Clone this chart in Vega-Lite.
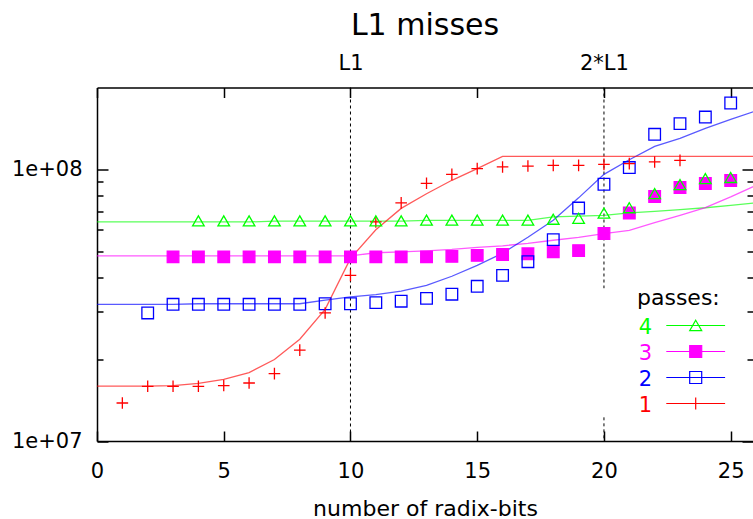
{
  "$schema": "https://vega.github.io/schema/vega-lite/v6.json",
  "width": 656,
  "height": 353.5,
  "autosize": {"type": "none"},
  "padding": {"left": 97, "top": 87.5, "right": 0, "bottom": 78},
  "title": {"text": "L1 misses", "font": "DejaVu Sans", "fontSize": 30, "fontWeight": "normal", "color": "black", "anchor": "middle", "offset": 12},
  "config": {"view": {"stroke": null}, "font": "DejaVu Sans"},
  "datasets": {
    "guides": [
      {"x": 10, "top": 2e8, "bottom": 1e7},
      {"x": 20, "top": 2e8, "bottom": 3.65e7},
      {"x": 20, "top": 1.222e7, "bottom": 1e7}
    ],
    "model": [
      {"passes": "4", "bits": 0, "misses": 6.4e7}, {"passes": "4", "bits": 1, "misses": 6.4e7}, {"passes": "4", "bits": 2, "misses": 6.4e7}, {"passes": "4", "bits": 3, "misses": 6.4e7}, {"passes": "4", "bits": 4, "misses": 6.4e7}, {"passes": "4", "bits": 5, "misses": 6.4e7}, {"passes": "4", "bits": 6, "misses": 6.4e7}, {"passes": "4", "bits": 7, "misses": 6.45e7}, {"passes": "4", "bits": 8, "misses": 6.45e7}, {"passes": "4", "bits": 9, "misses": 6.45e7}, {"passes": "4", "bits": 10, "misses": 6.45e7}, {"passes": "4", "bits": 11, "misses": 6.45e7}, {"passes": "4", "bits": 12, "misses": 6.45e7}, {"passes": "4", "bits": 13, "misses": 6.49e7}, {"passes": "4", "bits": 14, "misses": 6.49e7}, {"passes": "4", "bits": 15, "misses": 6.49e7}, {"passes": "4", "bits": 16, "misses": 6.49e7}, {"passes": "4", "bits": 17, "misses": 6.49e7}, {"passes": "4", "bits": 18, "misses": 6.68e7}, {"passes": "4", "bits": 19, "misses": 6.72e7}, {"passes": "4", "bits": 20, "misses": 6.77e7}, {"passes": "4", "bits": 21, "misses": 6.91e7}, {"passes": "4", "bits": 22, "misses": 7.0e7}, {"passes": "4", "bits": 23, "misses": 7.11e7}, {"passes": "4", "bits": 24, "misses": 7.22e7}, {"passes": "4", "bits": 25, "misses": 7.37e7}, {"passes": "4", "bits": 26, "misses": 7.53e7},
      {"passes": "3", "bits": 0, "misses": 4.8e7}, {"passes": "3", "bits": 1, "misses": 4.8e7}, {"passes": "3", "bits": 2, "misses": 4.8e7}, {"passes": "3", "bits": 3, "misses": 4.8e7}, {"passes": "3", "bits": 4, "misses": 4.8e7}, {"passes": "3", "bits": 5, "misses": 4.8e7}, {"passes": "3", "bits": 6, "misses": 4.8e7}, {"passes": "3", "bits": 7, "misses": 4.8e7}, {"passes": "3", "bits": 8, "misses": 4.8e7}, {"passes": "3", "bits": 9, "misses": 4.8e7}, {"passes": "3", "bits": 10, "misses": 4.8e7}, {"passes": "3", "bits": 11, "misses": 4.93e7}, {"passes": "3", "bits": 12, "misses": 4.97e7}, {"passes": "3", "bits": 13, "misses": 5.01e7}, {"passes": "3", "bits": 14, "misses": 5.07e7}, {"passes": "3", "bits": 15, "misses": 5.16e7}, {"passes": "3", "bits": 16, "misses": 5.23e7}, {"passes": "3", "bits": 17, "misses": 5.34e7}, {"passes": "3", "bits": 18, "misses": 5.48e7}, {"passes": "3", "bits": 19, "misses": 5.62e7}, {"passes": "3", "bits": 20, "misses": 5.8e7}, {"passes": "3", "bits": 21, "misses": 5.96e7}, {"passes": "3", "bits": 22, "misses": 6.36e7}, {"passes": "3", "bits": 23, "misses": 6.77e7}, {"passes": "3", "bits": 24, "misses": 7.23e7}, {"passes": "3", "bits": 25, "misses": 7.91e7}, {"passes": "3", "bits": 26, "misses": 8.73e7},
      {"passes": "2", "bits": 0, "misses": 3.185e7}, {"passes": "2", "bits": 1, "misses": 3.185e7}, {"passes": "2", "bits": 2, "misses": 3.185e7}, {"passes": "2", "bits": 3, "misses": 3.185e7}, {"passes": "2", "bits": 4, "misses": 3.2e7}, {"passes": "2", "bits": 5, "misses": 3.2e7}, {"passes": "2", "bits": 6, "misses": 3.2e7}, {"passes": "2", "bits": 7, "misses": 3.2e7}, {"passes": "2", "bits": 8, "misses": 3.2e7}, {"passes": "2", "bits": 9, "misses": 3.3e7}, {"passes": "2", "bits": 10, "misses": 3.39e7}, {"passes": "2", "bits": 11, "misses": 3.46e7}, {"passes": "2", "bits": 12, "misses": 3.56e7}, {"passes": "2", "bits": 13, "misses": 3.74e7}, {"passes": "2", "bits": 14, "misses": 4.04e7}, {"passes": "2", "bits": 15, "misses": 4.43e7}, {"passes": "2", "bits": 16, "misses": 4.91e7}, {"passes": "2", "bits": 17, "misses": 5.62e7}, {"passes": "2", "bits": 18, "misses": 6.49e7}, {"passes": "2", "bits": 19, "misses": 7.85e7}, {"passes": "2", "bits": 20, "misses": 9.58e7}, {"passes": "2", "bits": 21, "misses": 1.084e8}, {"passes": "2", "bits": 22, "misses": 1.215e8}, {"passes": "2", "bits": 23, "misses": 1.3e8}, {"passes": "2", "bits": 24, "misses": 1.415e8}, {"passes": "2", "bits": 25, "misses": 1.528e8}, {"passes": "2", "bits": 26, "misses": 1.64e8},
      {"passes": "1", "bits": 0, "misses": 1.593e7}, {"passes": "1", "bits": 1, "misses": 1.593e7}, {"passes": "1", "bits": 2, "misses": 1.593e7}, {"passes": "1", "bits": 3, "misses": 1.6e7}, {"passes": "1", "bits": 4, "misses": 1.63e7}, {"passes": "1", "bits": 5, "misses": 1.686e7}, {"passes": "1", "bits": 6, "misses": 1.786e7}, {"passes": "1", "bits": 7, "misses": 1.994e7}, {"passes": "1", "bits": 8, "misses": 2.37e7}, {"passes": "1", "bits": 9, "misses": 3.05e7}, {"passes": "1", "bits": 10, "misses": 4.7e7}, {"passes": "1", "bits": 11, "misses": 5.99e7}, {"passes": "1", "bits": 12, "misses": 7.18e7}, {"passes": "1", "bits": 13, "misses": 8.13e7}, {"passes": "1", "bits": 14, "misses": 9.11e7}, {"passes": "1", "bits": 15, "misses": 1.006e8}, {"passes": "1", "bits": 16, "misses": 1.116e8}, {"passes": "1", "bits": 17, "misses": 1.116e8}, {"passes": "1", "bits": 18, "misses": 1.116e8}, {"passes": "1", "bits": 19, "misses": 1.116e8}, {"passes": "1", "bits": 20, "misses": 1.116e8}, {"passes": "1", "bits": 21, "misses": 1.116e8}, {"passes": "1", "bits": 22, "misses": 1.116e8}, {"passes": "1", "bits": 23, "misses": 1.116e8}, {"passes": "1", "bits": 24, "misses": 1.116e8}, {"passes": "1", "bits": 25, "misses": 1.116e8}, {"passes": "1", "bits": 26, "misses": 1.116e8}
    ],
    "measured": [
      {"passes": "3", "bits": 3, "misses": 4.76e7}, {"passes": "3", "bits": 4, "misses": 4.76e7}, {"passes": "3", "bits": 5, "misses": 4.76e7}, {"passes": "3", "bits": 6, "misses": 4.76e7}, {"passes": "3", "bits": 7, "misses": 4.76e7}, {"passes": "3", "bits": 8, "misses": 4.76e7}, {"passes": "3", "bits": 9, "misses": 4.76e7}, {"passes": "3", "bits": 10, "misses": 4.76e7}, {"passes": "3", "bits": 11, "misses": 4.76e7}, {"passes": "3", "bits": 12, "misses": 4.76e7}, {"passes": "3", "bits": 13, "misses": 4.76e7}, {"passes": "3", "bits": 14, "misses": 4.78e7}, {"passes": "3", "bits": 15, "misses": 4.82e7}, {"passes": "3", "bits": 16, "misses": 4.86e7}, {"passes": "3", "bits": 17, "misses": 4.89e7}, {"passes": "3", "bits": 18, "misses": 4.97e7}, {"passes": "3", "bits": 19, "misses": 5.02e7}, {"passes": "3", "bits": 20, "misses": 5.8e7}, {"passes": "3", "bits": 21, "misses": 6.9e7}, {"passes": "3", "bits": 22, "misses": 7.94e7}, {"passes": "3", "bits": 23, "misses": 8.57e7}, {"passes": "3", "bits": 24, "misses": 8.87e7}, {"passes": "3", "bits": 25, "misses": 9.09e7},
      {"passes": "2", "bits": 2, "misses": 2.96e7}, {"passes": "2", "bits": 3, "misses": 3.185e7}, {"passes": "2", "bits": 4, "misses": 3.185e7}, {"passes": "2", "bits": 5, "misses": 3.185e7}, {"passes": "2", "bits": 6, "misses": 3.185e7}, {"passes": "2", "bits": 7, "misses": 3.185e7}, {"passes": "2", "bits": 8, "misses": 3.185e7}, {"passes": "2", "bits": 9, "misses": 3.2e7}, {"passes": "2", "bits": 10, "misses": 3.2e7}, {"passes": "2", "bits": 11, "misses": 3.23e7}, {"passes": "2", "bits": 12, "misses": 3.27e7}, {"passes": "2", "bits": 13, "misses": 3.35e7}, {"passes": "2", "bits": 14, "misses": 3.47e7}, {"passes": "2", "bits": 15, "misses": 3.71e7}, {"passes": "2", "bits": 16, "misses": 4.07e7}, {"passes": "2", "bits": 17, "misses": 4.57e7}, {"passes": "2", "bits": 18, "misses": 5.51e7}, {"passes": "2", "bits": 19, "misses": 7.2e7}, {"passes": "2", "bits": 20, "misses": 8.81e7}, {"passes": "2", "bits": 21, "misses": 1.015e8}, {"passes": "2", "bits": 22, "misses": 1.345e8}, {"passes": "2", "bits": 23, "misses": 1.473e8}, {"passes": "2", "bits": 24, "misses": 1.557e8}, {"passes": "2", "bits": 25, "misses": 1.754e8},
      {"passes": "1", "bits": 1, "misses": 1.38e7}, {"passes": "1", "bits": 2, "misses": 1.59e7}, {"passes": "1", "bits": 3, "misses": 1.59e7}, {"passes": "1", "bits": 4, "misses": 1.59e7}, {"passes": "1", "bits": 5, "misses": 1.6e7}, {"passes": "1", "bits": 6, "misses": 1.635e7}, {"passes": "1", "bits": 7, "misses": 1.77e7}, {"passes": "1", "bits": 8, "misses": 2.16e7}, {"passes": "1", "bits": 9, "misses": 2.96e7}, {"passes": "1", "bits": 10, "misses": 4.07e7}, {"passes": "1", "bits": 11, "misses": 6.4e7}, {"passes": "1", "bits": 12, "misses": 7.52e7}, {"passes": "1", "bits": 13, "misses": 8.88e7}, {"passes": "1", "bits": 14, "misses": 9.58e7}, {"passes": "1", "bits": 15, "misses": 1.006e8}, {"passes": "1", "bits": 16, "misses": 1.02e8}, {"passes": "1", "bits": 17, "misses": 1.028e8}, {"passes": "1", "bits": 18, "misses": 1.034e8}, {"passes": "1", "bits": 19, "misses": 1.034e8}, {"passes": "1", "bits": 20, "misses": 1.043e8}, {"passes": "1", "bits": 21, "misses": 1.049e8}, {"passes": "1", "bits": 22, "misses": 1.064e8}, {"passes": "1", "bits": 23, "misses": 1.079e8},
      {"passes": "4", "bits": 4, "misses": 6.46e7}, {"passes": "4", "bits": 5, "misses": 6.46e7}, {"passes": "4", "bits": 6, "misses": 6.46e7}, {"passes": "4", "bits": 7, "misses": 6.46e7}, {"passes": "4", "bits": 8, "misses": 6.46e7}, {"passes": "4", "bits": 9, "misses": 6.46e7}, {"passes": "4", "bits": 10, "misses": 6.46e7}, {"passes": "4", "bits": 11, "misses": 6.46e7}, {"passes": "4", "bits": 12, "misses": 6.46e7}, {"passes": "4", "bits": 13, "misses": 6.5e7}, {"passes": "4", "bits": 14, "misses": 6.5e7}, {"passes": "4", "bits": 15, "misses": 6.5e7}, {"passes": "4", "bits": 16, "misses": 6.5e7}, {"passes": "4", "bits": 17, "misses": 6.5e7}, {"passes": "4", "bits": 18, "misses": 6.55e7}, {"passes": "4", "bits": 19, "misses": 6.6e7}, {"passes": "4", "bits": 20, "misses": 6.9e7}, {"passes": "4", "bits": 21, "misses": 7.22e7}, {"passes": "4", "bits": 22, "misses": 8.14e7}, {"passes": "4", "bits": 23, "misses": 8.79e7}, {"passes": "4", "bits": 24, "misses": 9.24e7}, {"passes": "4", "bits": 25, "misses": 9.33e7}
    ]
  },
  "layer": [
    {
      "data": {"name": "guides"},
      "mark": {"type": "rule", "color": "black", "strokeWidth": 1, "strokeDash": [3, 3]},
      "encoding": {
        "x": {"field": "x", "type": "quantitative", "scale": {"domain": [0, 25.88], "nice": false, "zero": false},
          "axis": {"orient": "top", "values": [0, 5, 10, 15, 20, 25], "labelExpr": "datum.value == 10 ? 'L1' : datum.value == 20 ? '2*L1' : ''", "tickSize": -10, "labelPadding": 24, "labelFont": "DejaVu Sans", "labelFontSize": 21, "labelColor": "black", "domainColor": "black", "tickColor": "black", "domainWidth": 1.5, "tickWidth": 1.5, "grid": false, "title": null, "labelFlush": false, "labelOverlap": false}},
        "y": {"field": "top", "type": "quantitative", "scale": {"type": "log", "domain": [1e7, 2e8], "nice": false},
          "axis": {"orient": "right", "values": [10000000, 20000000, 30000000, 40000000, 50000000, 60000000, 70000000, 80000000, 90000000, 100000000], "labels": false, "domain": false, "tickSize": {"condition": {"test": "datum.value == 10000000 || datum.value == 100000000", "value": -11}, "value": -6}, "tickColor": "black", "tickWidth": 1.5, "grid": false, "title": null}},
        "y2": {"field": "bottom"}
      }
    },
    {
      "data": {"name": "model"},
      "mark": {"type": "line", "clip": true, "strokeWidth": 1.3, "opacity": 0.65},
      "encoding": {
        "x": {"field": "bits", "type": "quantitative", "scale": {"domain": [0, 25.88], "nice": false, "zero": false},
          "axis": {"orient": "bottom", "values": [0, 5, 10, 15, 20, 25], "tickSize": -10, "labelPadding": 29, "labelFont": "DejaVu Sans", "labelFontSize": 21, "labelColor": "black", "domainColor": "black", "tickColor": "black", "domainWidth": 1.5, "tickWidth": 1.5, "grid": false, "labelFlush": false, "labelOverlap": false, "title": "number of radix-bits", "titleFont": "DejaVu Sans", "titleFontSize": 22, "titleFontWeight": "normal", "titleColor": "black", "titleBaseline": "alphabetic", "titleY": 74}},
        "y": {"field": "misses", "type": "quantitative", "scale": {"type": "log", "domain": [1e7, 2e8], "nice": false},
          "axis": {"orient": "left", "values": [10000000, 20000000, 30000000, 40000000, 50000000, 60000000, 70000000, 80000000, 90000000, 100000000], "labelExpr": "datum.value == 10000000 ? '1e+07' : datum.value == 100000000 ? '1e+08' : ''", "tickSize": {"condition": {"test": "datum.value == 10000000 || datum.value == 100000000", "value": -11}, "value": -6}, "labelPadding": 26, "labelFont": "DejaVu Sans", "labelFontSize": 21, "labelColor": "black", "domainColor": "black", "tickColor": "black", "domainWidth": 1.5, "tickWidth": 1.5, "grid": false, "labelOverlap": false, "labelFlush": false, "title": null}},
        "stroke": {"field": "passes", "type": "nominal", "scale": {"domain": ["4", "3", "2", "1"], "range": ["#00ff00", "#ff00ff", "#0000ff", "#ff0000"]}}
      }
    },
    {
      "data": {"name": "measured"},
      "mark": {"type": "point", "filled": false, "opacity": 1, "strokeWidth": 1.3, "size": 135, "clip": true},
      "encoding": {
        "x": {"field": "bits", "type": "quantitative", "scale": {"domain": [0, 25.88], "nice": false, "zero": false}, "axis": null},
        "y": {"field": "misses", "type": "quantitative", "scale": {"type": "log", "domain": [1e7, 2e8], "nice": false}, "axis": null},
        "stroke": {"field": "passes", "type": "nominal", "scale": {"domain": ["4", "3", "2", "1"], "range": ["#00ff00", "#ff00ff", "#0000ff", "#ff0000"]},
          "legend": {
            "title": "passes:", "orient": "none", "legendX": 540, "legendY": 200, "padding": 0,
            "titleFont": "DejaVu Sans", "titleFontSize": 22, "titleFontWeight": "normal", "titleColor": "black", "titleBaseline": "top", "titlePadding": 5.5,
            "labelFont": "DejaVu Sans", "labelFontSize": 21, "symbolSize": 144, "symbolStrokeWidth": 1.2, "rowPadding": 3,
            "encoding": {
              "symbols": {
                "shape": {"value": {"expr": "datum.value === '4' ? 'M-4.9,0H4.9M0,-0.866L1,0.866H-1Z' : datum.value === '1' ? 'M-4.9,0H4.9M0,-1V1' : 'M-4.9,0H4.9M-1,-1H1V1H-1Z'"}},
                "fill": {"value": {"expr": "datum.value === '3' ? '#ff00ff' : 'transparent'"}},
                "x": {"value": 58.7},
                "opacity": {"value": 1}
              },
              "labels": {
                "x": {"value": 15},
                "align": {"value": "right"},
                "fill": {"value": {"expr": "scale('stroke', datum.value)"}},
                "dy": {"value": 2}
              }
            }
          }},
        "shape": {"field": "passes", "type": "nominal", "scale": {"domain": ["1", "2", "3", "4"], "range": ["M-1,0H1M0,-1V1", "square", "square", "triangle-up"]}, "legend": null},
        "fill": {"field": "passes", "type": "nominal", "scale": {"domain": ["3", "1", "2", "4"], "range": ["#ff00ff", "transparent", "transparent", "transparent"]}, "legend": null}
      }
    }
  ],
  "resolve": {"axis": {"x": "independent", "y": "independent"}}
}
